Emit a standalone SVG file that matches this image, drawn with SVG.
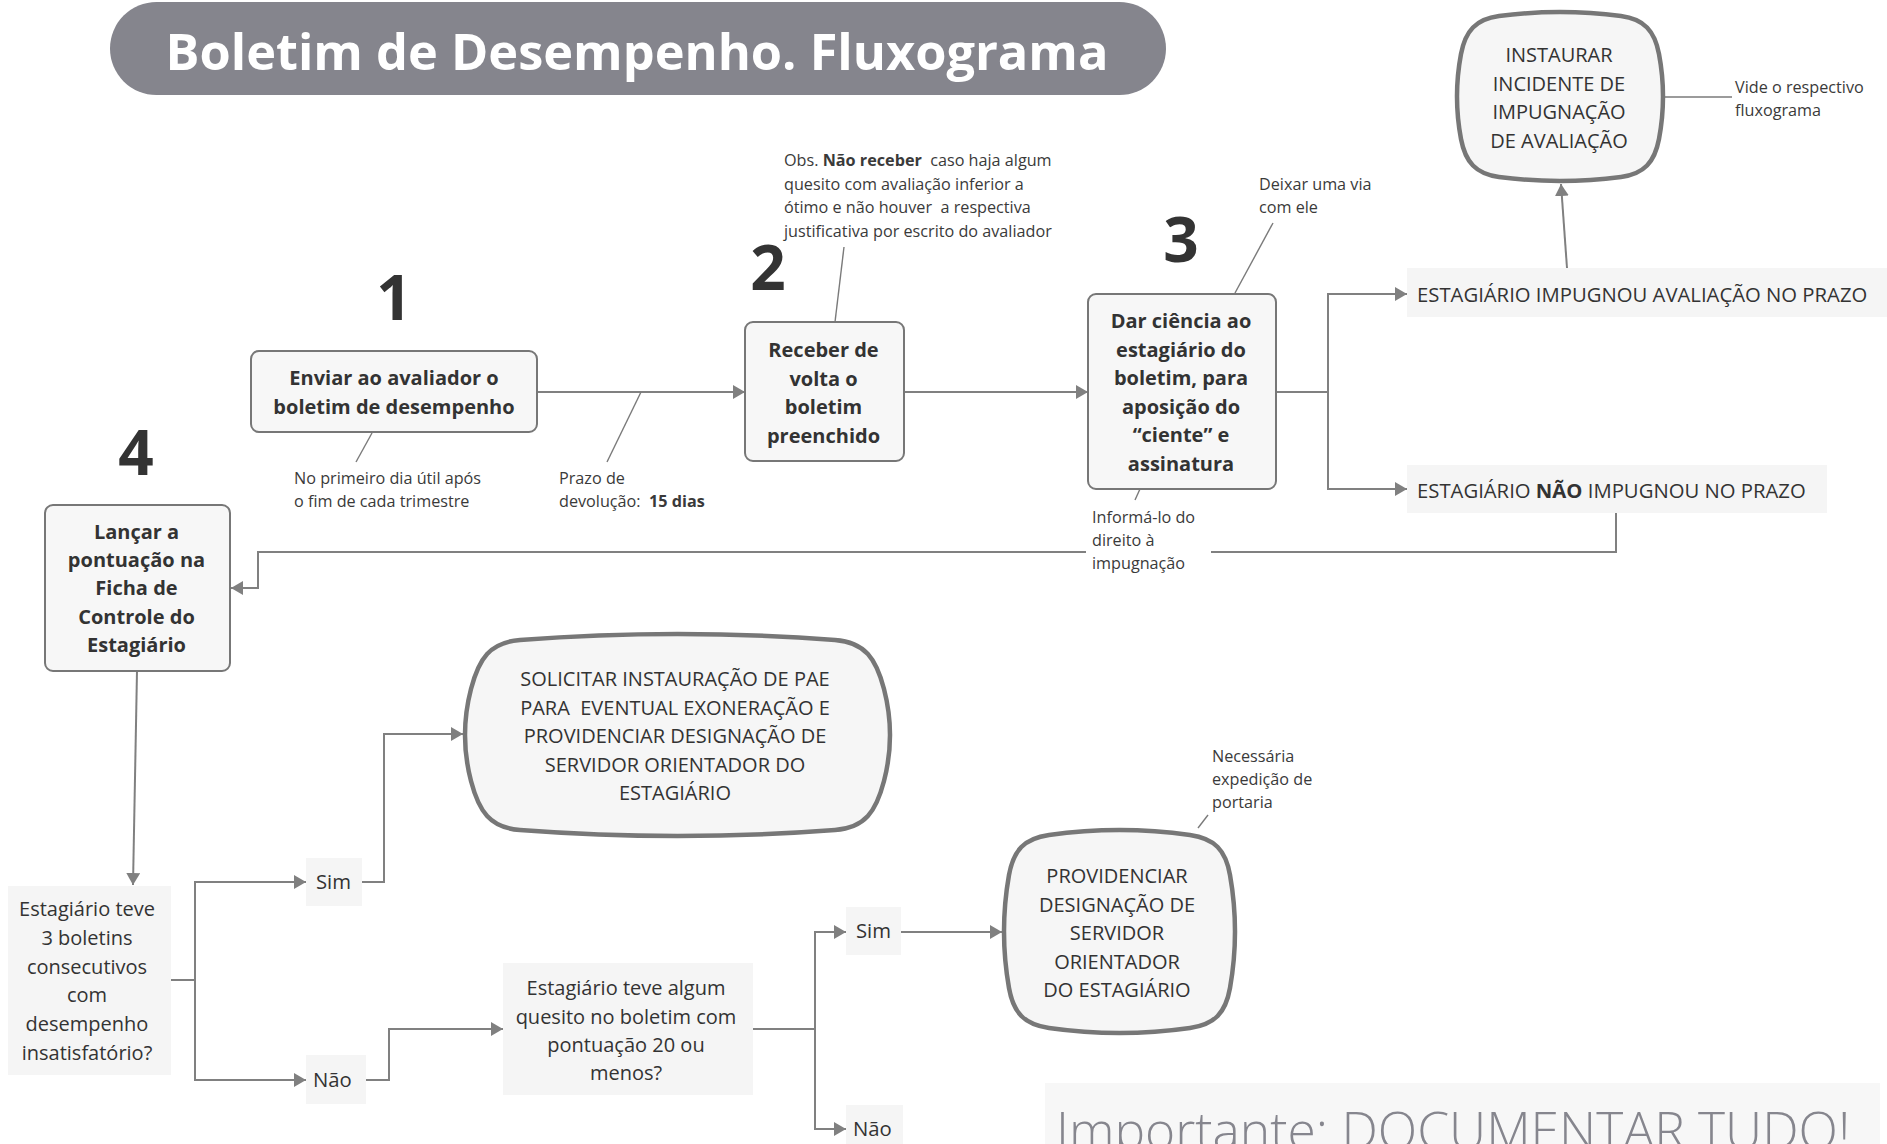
<svg xmlns="http://www.w3.org/2000/svg" width="1887" height="1144" viewBox="0 0 1887 1144">
<defs>
<style>
text{font-family:"Open Sans","Liberation Sans",sans-serif;fill:#333;white-space:pre}
.b{font-weight:700;font-size:20px;text-anchor:middle}
.r{font-weight:400;font-size:20.3px}
.rc{font-weight:400;font-size:20px;text-anchor:middle}
.n{font-weight:400;font-size:16.2px;fill:#3a3a3a}
.num{font-weight:700;font-size:62px;text-anchor:middle;fill:#333}
.box{fill:#f7f7f7;stroke:#777;stroke-width:2}
.big{fill:#f6f6f6;stroke:#777;stroke-width:4.5}
.lbl{fill:#f5f5f5}
.c{fill:none;stroke:#808080;stroke-width:2}
.a{fill:none;stroke:#7a7a7a;stroke-width:1.4}
</style>
<marker id="ah" markerUnits="userSpaceOnUse" markerWidth="13" markerHeight="14" refX="12" refY="7" orient="auto"><path d="M0,0 L12,7 L0,14 z" fill="#808080"/></marker>
</defs>
<rect width="1887" height="1144" fill="#fff"/>

<g id="title">
<rect x="110" y="2" width="1056" height="93" rx="46.5" fill="#85858d"/>
<text x="637" y="70" style="font-weight:700;font-size:50.5px;fill:#fff;text-anchor:middle">Boletim de Desempenho. Fluxograma</text>
</g>

<g id="connectors">
<path class="c" d="M537,392 H745" marker-end="url(#ah)"/>
<path class="c" d="M904,392 H1088" marker-end="url(#ah)"/>
<path class="c" d="M1276,392 H1328"/>
<path class="c" d="M1328,392 V294 H1407" marker-end="url(#ah)"/>
<path class="c" d="M1328,392 V489 H1407" marker-end="url(#ah)"/>
<path class="c" d="M1567,268 L1561,184" marker-end="url(#ah)"/>
<path class="c" d="M1616,513 V552 H1211 M1086,552 H258 V588 H231" marker-end="url(#ah)"/>
<path class="c" d="M137,671 L133,885" marker-end="url(#ah)"/>
<path class="c" d="M171,980 H195"/>
<path class="c" d="M195,980 V882 H306" marker-end="url(#ah)"/>
<path class="c" d="M195,980 V1080 H306" marker-end="url(#ah)"/>
<path class="c" d="M362,882 H384 V734 H463" marker-end="url(#ah)"/>
<path class="c" d="M366,1080 H389 V1029 H503" marker-end="url(#ah)"/>
<path class="c" d="M753,1029 H815"/>
<path class="c" d="M815,1029 V932 H846" marker-end="url(#ah)"/>
<path class="c" d="M815,1029 V1129 H846" marker-end="url(#ah)"/>
<path class="c" d="M901,932 L1002,932" marker-end="url(#ah)"/>
</g>

<g id="annotation-lines">
<path class="a" d="M372,433 L356,462"/>
<path class="a" d="M641,392 L607,462"/>
<path class="a" d="M835,322 L844,247"/>
<path class="a" d="M1235,293 L1273,223"/>
<path class="a" d="M1140,489 L1135,500"/>
<path class="a" d="M1665,97 L1732,97"/>
<path class="a" d="M1198,828 L1208,815"/>
</g>

<g id="step1">
<text class="num" x="394" y="320">1</text>
<rect class="box" x="251" y="351" width="286" height="81" rx="8"/>
<text class="b" x="394" y="385">Enviar ao avaliador o</text>
<text class="b" x="394" y="414">boletim de desempenho</text>
</g>
<g id="note1">
<text class="n" x="294" y="484">No primeiro dia útil após</text>
<text class="n" x="294" y="507">o fim de cada trimestre</text>
</g>
<g id="note-prazo">
<text class="n" x="559" y="484">Prazo de</text>
<text class="n" x="559" y="507">devolução:  <tspan style="font-weight:700">15 dias</tspan></text>
</g>

<g id="step2">
<text class="num" x="768" y="290">2</text>
<rect class="box" x="745" y="322" width="159" height="139" rx="8"/>
<text class="b" x="823.5" y="357">Receber de</text>
<text class="b" x="823.5" y="385.5">volta o</text>
<text class="b" x="823.5" y="414">boletim</text>
<text class="b" x="823.5" y="442.5">preenchido</text>
</g>
<g id="note2">
<text class="n" x="784" y="166">Obs. <tspan style="font-weight:700">Não receber</tspan>  caso haja algum</text>
<text class="n" x="784" y="189.5">quesito com avaliação inferior a</text>
<text class="n" x="784" y="213">ótimo e não houver  a respectiva</text>
<text class="n" x="784" y="236.5">justificativa por escrito do avaliador</text>
</g>

<g id="step3">
<text class="num" x="1181" y="262">3</text>
<rect class="box" x="1088" y="294" width="188" height="195" rx="8"/>
<text class="b" x="1181" y="328">Dar ciência ao</text>
<text class="b" x="1181" y="356.5">estagiário do</text>
<text class="b" x="1181" y="385">boletim, para</text>
<text class="b" x="1181" y="413.5">aposição do</text>
<text class="b" x="1181" y="442">“ciente” e</text>
<text class="b" x="1181" y="470.5">assinatura</text>
</g>
<g id="note3a">
<text class="n" x="1259" y="190">Deixar uma via</text>
<text class="n" x="1259" y="213">com ele</text>
</g>
<g id="note3b">
<text class="n" x="1092" y="523">Informá-lo do</text>
<text class="n" x="1092" y="546">direito à</text>
<text class="n" x="1092" y="569">impugnação</text>
</g>

<g id="impugnou">
<rect class="lbl" x="1407" y="268" width="480" height="49"/>
<text class="r" x="1417" y="302">ESTAGIÁRIO IMPUGNOU AVALIAÇÃO NO PRAZO</text>
</g>
<g id="nao-impugnou">
<rect class="lbl" x="1407" y="465" width="420" height="48"/>
<text class="r" x="1417" y="498">ESTAGIÁRIO <tspan style="font-weight:700">NÃO</tspan> IMPUGNOU NO PRAZO</text>
</g>

<g id="instaurar">
<path class="big" d="M1499,16 Q1560,8 1621,16 C1644.1,19.03 1654.65,30.9 1659,54 Q1667,96.5 1659,139 C1654.65,162.1 1644.1,173.97 1621,177 Q1560,185 1499,177 C1475.9,173.97 1465.35,162.1 1461,139 Q1453,96.5 1461,54 C1465.35,30.9 1475.9,19.03 1499,16 Z"/>
<text class="rc" x="1559" y="62">INSTAURAR</text>
<text class="rc" x="1559" y="90.5">INCIDENTE DE</text>
<text class="rc" x="1559" y="119">IMPUGNAÇÃO</text>
<text class="rc" x="1559" y="147.5">DE AVALIAÇÃO</text>
</g>
<g id="note-vide">
<text class="n" x="1735" y="93">Vide o respectivo</text>
<text class="n" x="1735" y="116">fluxograma</text>
</g>

<g id="step4">
<text class="num" x="136" y="475">4</text>
<rect class="box" x="45" y="505" width="185" height="166" rx="8"/>
<text class="b" x="136.5" y="539">Lançar a</text>
<text class="b" x="136.5" y="567">pontuação na</text>
<text class="b" x="136.5" y="595">Ficha de</text>
<text class="b" x="136.5" y="623.5">Controle do</text>
<text class="b" x="136.5" y="652">Estagiário</text>
</g>

<g id="decision1">
<rect class="lbl" x="8" y="886" width="163" height="189"/>
<text class="rc" x="87" y="916">Estagiário teve</text>
<text class="rc" x="87" y="945">3 boletins</text>
<text class="rc" x="87" y="974">consecutivos</text>
<text class="rc" x="87" y="1002">com</text>
<text class="rc" x="87" y="1031">desempenho</text>
<text class="rc" x="87" y="1060">insatisfatório?</text>
</g>
<g id="sim1">
<rect class="lbl" x="306" y="858" width="56" height="48"/>
<text class="r" x="316" y="889">Sim</text>
</g>
<g id="nao1">
<rect class="lbl" x="306" y="1055" width="60" height="49"/>
<text class="r" x="313" y="1087">Não</text>
</g>

<g id="solicitar">
<path class="big" d="M520,640 Q677.5,628 835,640 C865.25,642.3 876.11,658.75 884,689 Q896,735 884,781 C876.11,811.25 865.25,827.7 835,830 Q677.5,842 520,830 C489.75,827.7 478.89,811.25 471,781 Q459,735 471,689 C478.89,658.75 489.75,642.3 520,640 Z"/>
<text class="rc" x="675" y="686">SOLICITAR INSTAURAÇÃO DE PAE</text>
<text class="rc" x="675" y="714.5">PARA  EVENTUAL EXONERAÇÃO E</text>
<text class="rc" x="675" y="743">PROVIDENCIAR DESIGNAÇÃO DE</text>
<text class="rc" x="675" y="771.5">SERVIDOR ORIENTADOR DO</text>
<text class="rc" x="675" y="800">ESTAGIÁRIO</text>
</g>

<g id="decision2">
<rect class="lbl" x="503" y="963" width="250" height="132"/>
<text class="rc" x="626" y="995">Estagiário teve algum</text>
<text class="rc" x="626" y="1024">quesito no boletim com</text>
<text class="rc" x="626" y="1052">pontuação 20 ou</text>
<text class="rc" x="626" y="1080">menos?</text>
</g>
<g id="sim2">
<rect class="lbl" x="846" y="907" width="55" height="48"/>
<text class="r" x="856" y="938">Sim</text>
</g>
<g id="nao2">
<rect class="lbl" x="846" y="1105" width="57" height="45"/>
<text class="r" x="853" y="1136">Não</text>
</g>

<g id="providenciar">
<path class="big" d="M1049,835 Q1119.5,825 1190,835 C1214.75,838.51 1225.62,850.25 1230,875 Q1240,931.5 1230,988 C1225.62,1012.75 1214.75,1024.49 1190,1028 Q1119.5,1038 1049,1028 C1024.25,1024.49 1013.38,1012.75 1009,988 Q999,931.5 1009,875 C1013.38,850.25 1024.25,838.51 1049,835 Z"/>
<text class="rc" x="1117" y="883">PROVIDENCIAR</text>
<text class="rc" x="1117" y="911.5">DESIGNAÇÃO DE</text>
<text class="rc" x="1117" y="940">SERVIDOR</text>
<text class="rc" x="1117" y="968.5">ORIENTADOR</text>
<text class="rc" x="1117" y="997">DO ESTAGIÁRIO</text>
</g>
<g id="note-portaria">
<text class="n" x="1212" y="762">Necessária</text>
<text class="n" x="1212" y="785">expedição de</text>
<text class="n" x="1212" y="808">portaria</text>
</g>

<g id="importante">
<rect x="1045" y="1083" width="835" height="70" fill="#f7f7f7"/>
<text x="1056" y="1149" style="font-weight:300;font-size:51.5px;fill:#86868e">Importante: DOCUMENTAR TUDO!</text>
</g>
</svg>
